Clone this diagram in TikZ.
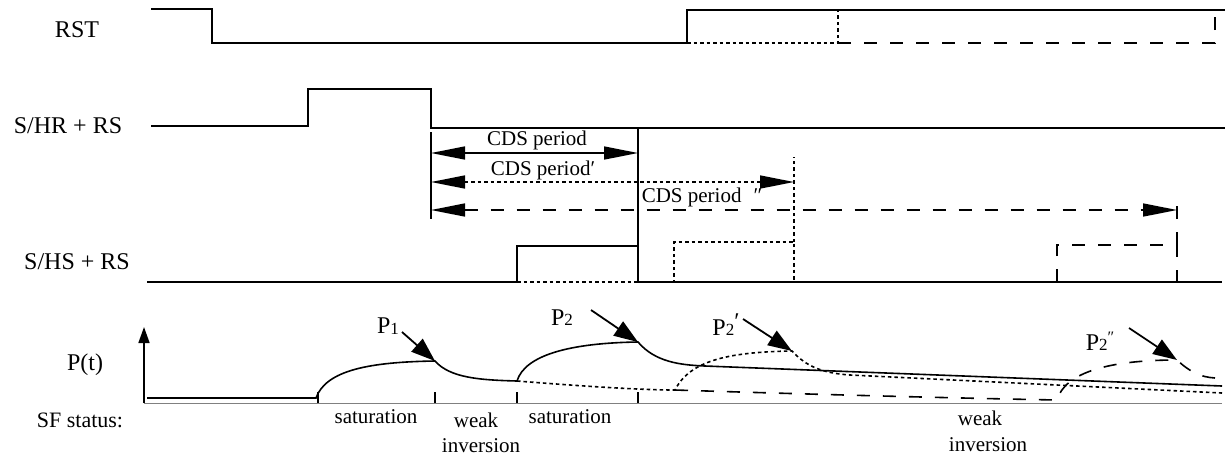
\documentclass[tikz,border=0pt]{standalone}
\usepackage{fontspec}
\setmainfont{Liberation Serif}
\usepackage{tikz}
\usetikzlibrary{arrows.meta}
\tikzset{sig/.style={line width=1.6pt},
         sigdot/.style={sig, dash pattern=on 3.5pt off 3pt},
         sigdash/.style={sig, dash pattern=on 13pt off 13pt},
         lbl/.style={font=\fontsize{24}{28}\selectfont, inner sep=0pt},
         sflbl/.style={font=\fontsize{21}{24}\selectfont, inner sep=0pt},
         cdsarrow/.style={sig, {Triangle[length=34pt,width=13pt]}-{Triangle[length=34pt,width=13pt]}},
         peakarrow/.style={line width=1.8pt, -{Triangle[length=24pt,width=17pt]}}}
\newcommand{\ptwo}{P{\fontsize{17}{17}\selectfont 2}}

\begin{document}
\begin{tikzpicture}[x=1pt, y=-1pt]
					\useasboundingbox (0,0) rectangle (1225,459);

					% signal names
					\node[lbl] (rst) at (77,30) {RST};
					\node[lbl] (shr) at (68,126) {S/HR + RS};
					\node[lbl] (shs) at (77,262) {S/HS + RS};
					\node[lbl] (pt) at (85,365) {P(t)};
					\node[sflbl, font=\fontsize{22}{24}\selectfont] (sf) at (80,420) {SF status:};

					% RST
					\draw[sig] (151,9) -- (212,9) -- (212,43) -- (687,43) -- (687,10) -- (1225,10);
					\draw[sigdot] (687,43) -- (838,43) -- (838,10);
					\draw[sigdash] (838,43) -- (1215,43) -- (1215,10);

					% S/HR + RS
					\draw[sig] (151,126) -- (308,126) -- (308,89) -- (431,89) -- (431,128) -- (1225,128);
					\draw[sig] (431,132) -- (431,219);

					% CDS periods
					\coordinate (c0) at (431,153);
					\coordinate (c1) at (638,153);
					\coordinate (c2) at (431,182);
					\coordinate (c3) at (794,182);
					\coordinate (c4) at (431,210);
					\coordinate (c5) at (1177,210);
					\draw[cdsarrow] (c0) -- (c1);
					\draw[cdsarrow, dash pattern=on 3.5pt off 3pt] (c2) -- (c3);
					\draw[cdsarrow, dash pattern=on 13pt off 13pt] (c4) -- (c5);
					\node[sflbl] (cds) at (537,140) {CDS period};
					\node[sflbl] (cdsp) at (543,170) {CDS period′};
					\node[sflbl] (cdspp) at (702,197) {CDS period\hspace{12pt}″};

					% S/HS + RS
					\draw[sig] (147,282) -- (517,282) -- (517,246) -- (638,246) -- (638,129);
					\draw[sig] (638,246) -- (638,282) -- (1222,282);
					\draw[sigdot] (517,282) -- (674,282) -- (674,242) -- (794,242) -- (794,282);
					\draw[sigdot] (794,242) -- (794,157);
					\draw[sigdash] (1057,282) -- (1057,245) -- (1177,245) -- (1177,282);
					\draw[sigdash] (1177,245) -- (1177,195);

					% P(t) axes
					\draw[gray, line width=0.8pt] (144,403) -- (1222,403);
					\draw[sig, -{Triangle[length=16pt,width=11pt]}] (144,403) -- (144,327);
					\foreach \tx in {318,435,517,638}
						\draw[line width=1.2pt] (\tx,392) -- (\tx,403);

					% P(t) curves
					\coordinate (pk1) at (435,361);
					\coordinate (pk2) at (638,342);
					\coordinate (pk3) at (792,351);
					\coordinate (pk4) at (1177,360);
					\draw[sig] (147,398) -- (316,398) .. controls (326,370) and (370,362) .. (pk1)
						.. controls (450,378) and (480,380) .. (517,381)
						.. controls (525,355) and (570,343) .. (pk2)
						.. controls (655,362) and (680,365) .. (705,366) -- (1222,386);
					\draw[sigdot] (517,381) .. controls (580,386) and (640,390) .. (675,390)
						.. controls (690,360) and (730,352) .. (pk3)
						.. controls (805,365) and (820,373) .. (850,375) -- (1222,393);
					\draw[sigdash] (675,390) .. controls (800,394) and (950,398) .. (1057,400)
						.. controls (1065,372) and (1110,360) .. (pk4)
						.. controls (1190,372) and (1200,377) .. (1215,378);

					% peak labels
					\node[lbl] (p1) at (388,326) {P\raisebox{-1pt}{\fontsize{17}{17}\selectfont 1}};
					\node[lbl] (p2) at (562,318) {\ptwo};
					\node[lbl] (p2p) at (726,325) {\ptwo\raisebox{6pt}{′}};
					\node[lbl] (p2pp) at (1100,341) {\ptwo\raisebox{8pt}{\fontsize{16}{16}\selectfont ″}};
					\draw[peakarrow] (402,332) -- (pk1);
					\draw[peakarrow] (591,310) -- (pk2);
					\draw[peakarrow] (743,319) -- (pk3);
					\draw[peakarrow] (1129,328) -- (pk4);

					% SF status
					\node[sflbl] (sat1) at (376,417) {saturation};
					\node[sflbl] (weak1) at (476,420) {weak};
					\node[sflbl] (inv1) at (481,446) {inversion};
					\node[sflbl] (sat2) at (570,417) {saturation};
					\node[sflbl] (weak2) at (980,418) {weak};
					\node[sflbl] (inv2) at (988,445) {inversion};

				\end{tikzpicture}
\end{document}
